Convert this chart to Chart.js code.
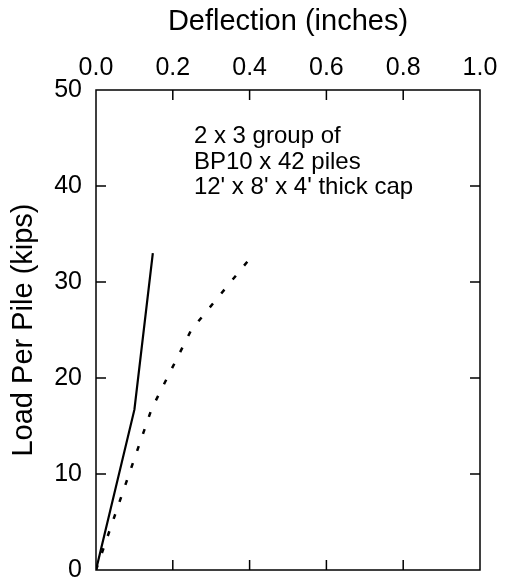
<!DOCTYPE html>
<html lang="en">
<head>
<meta charset="UTF-8" />
<title>Load Per Pile vs Deflection</title>
<script src="https://cdn.jsdelivr.net/npm/chart.js@4"></script>
<style>
  html, body { margin: 0; padding: 0; background: #fff; }
</style>
</head>
<body>
<canvas id="myChart" width="506" height="583"></canvas>
<script>
// measured curve (solid) and second curve (dotted), deflection in inches, load in kips
const deflSolid = [0, 0.1, 0.148];
const loadSolid = [0, 16.7, 33];
const deflDotted = [0, 0.145, 0.248, 0.4];
const loadDotted = [0, 16.8, 25, 32.4];

const xTicks = [0, 0.2, 0.4, 0.6, 0.8, 1.0];
const yTicks = [0, 10, 20, 30, 40, 50];

const noteLines = ["2 x 3 group of", "BP10 x 42 piles", "12' x 8' x 4' thick cap"];
const noteAt = { x: 0.255, y: 44.5 };

const FONT = '"Liberation Sans", Arial, Helvetica, sans-serif';

function toPoints(xs, ys) {
  return xs.map((x, i) => ({ x: x, y: ys[i] }));
}

// box around the plot, inward tick marks and the note text
const framePlugin = {
  id: "frame",
  afterDatasetsDraw(chart) {
    const ctx = chart.ctx;
    const a = chart.chartArea;
    const xs = chart.scales.x;
    const ys = chart.scales.y;
    ctx.save();
    ctx.strokeStyle = "#000";
    ctx.lineWidth = 1.5;
    ctx.strokeRect(a.left, a.top, a.right - a.left, a.bottom - a.top);
    ctx.beginPath();
    xTicks.slice(1, -1).forEach((v) => {
      const px = xs.getPixelForValue(v);
      ctx.moveTo(px, a.top);
      ctx.lineTo(px, a.top + 10);
      ctx.moveTo(px, a.bottom);
      ctx.lineTo(px, a.bottom - 10);
    });
    yTicks.slice(1, -1).forEach((v) => {
      const py = ys.getPixelForValue(v);
      ctx.moveTo(a.left, py);
      ctx.lineTo(a.left + 10, py);
      ctx.moveTo(a.right, py);
      ctx.lineTo(a.right - 10, py);
    });
    ctx.stroke();

    ctx.fillStyle = "#000";
    ctx.font = "24px " + FONT;
    ctx.textBaseline = "alphabetic";
    ctx.textAlign = "left";
    const nx = xs.getPixelForValue(noteAt.x);
    const ny = ys.getPixelForValue(noteAt.y);
    noteLines.forEach((t, i) => ctx.fillText(t, nx, ny + i * 25.7));
    ctx.restore();
  },
};

const ctx = document.getElementById("myChart").getContext("2d");
const myChart = new Chart(ctx, {
  type: "scatter",
  data: {
    datasets: [
      {
        label: "solid",
        data: toPoints(deflSolid, loadSolid),
        showLine: true,
        borderColor: "#000",
        borderWidth: 2.2,
        pointRadius: 0,
        fill: false,
      },
      {
        label: "dotted",
        data: toPoints(deflDotted, loadDotted),
        showLine: true,
        borderColor: "#000",
        borderWidth: 2.5,
        borderDash: [5, 13],
        pointRadius: 0,
        fill: false,
      },
    ],
  },
  options: {
    responsive: false,
    animation: false,
    devicePixelRatio: 1,
    layout: { padding: { left: 0, top: 0, right: 26, bottom: 13 } },
    plugins: { legend: { display: false }, tooltip: { enabled: false } },
    scales: {
      x: {
        type: "linear",
        position: "top",
        min: 0,
        max: 1,
        afterBuildTicks: (s) => { s.ticks = xTicks.map((v) => ({ value: v })); },
        afterFit: (s) => {
          s.height = 90;
          s.paddingLeft = 0;
          s.paddingRight = 0;
        },
        grid: { display: false, drawTicks: false },
        border: { display: false },
        ticks: {
          color: "#000",
          padding: 9,
          maxRotation: 0,
          autoSkip: false,
          font: { family: FONT, size: 25, lineHeight: 1 },
          callback: (v) => Number(v).toFixed(1),
        },
        title: {
          display: true,
          text: "Deflection (inches)",
          color: "#000",
          padding: { top: 5, bottom: 0 },
          font: { family: FONT, size: 29, lineHeight: 1.2 },
        },
      },
      y: {
        type: "linear",
        position: "left",
        min: 0,
        max: 50,
        afterBuildTicks: (s) => { s.ticks = yTicks.map((v) => ({ value: v })); },
        afterFit: (s) => {
          s.width = 96;
          s.paddingTop = 0;
          s.paddingBottom = 0;
        },
        grid: { display: false, drawTicks: false },
        border: { display: false },
        ticks: {
          color: "#000",
          padding: 14,
          autoSkip: false,
          font: { family: FONT, size: 25, lineHeight: 1 },
        },
        title: {
          display: true,
          text: "Load Per Pile (kips)",
          color: "#000",
          padding: { top: 7, bottom: 0 },
          font: { family: FONT, size: 29, lineHeight: 1.2 },
        },
      },
    },
  },
  plugins: [framePlugin],
});
</script>
</body>
</html>
